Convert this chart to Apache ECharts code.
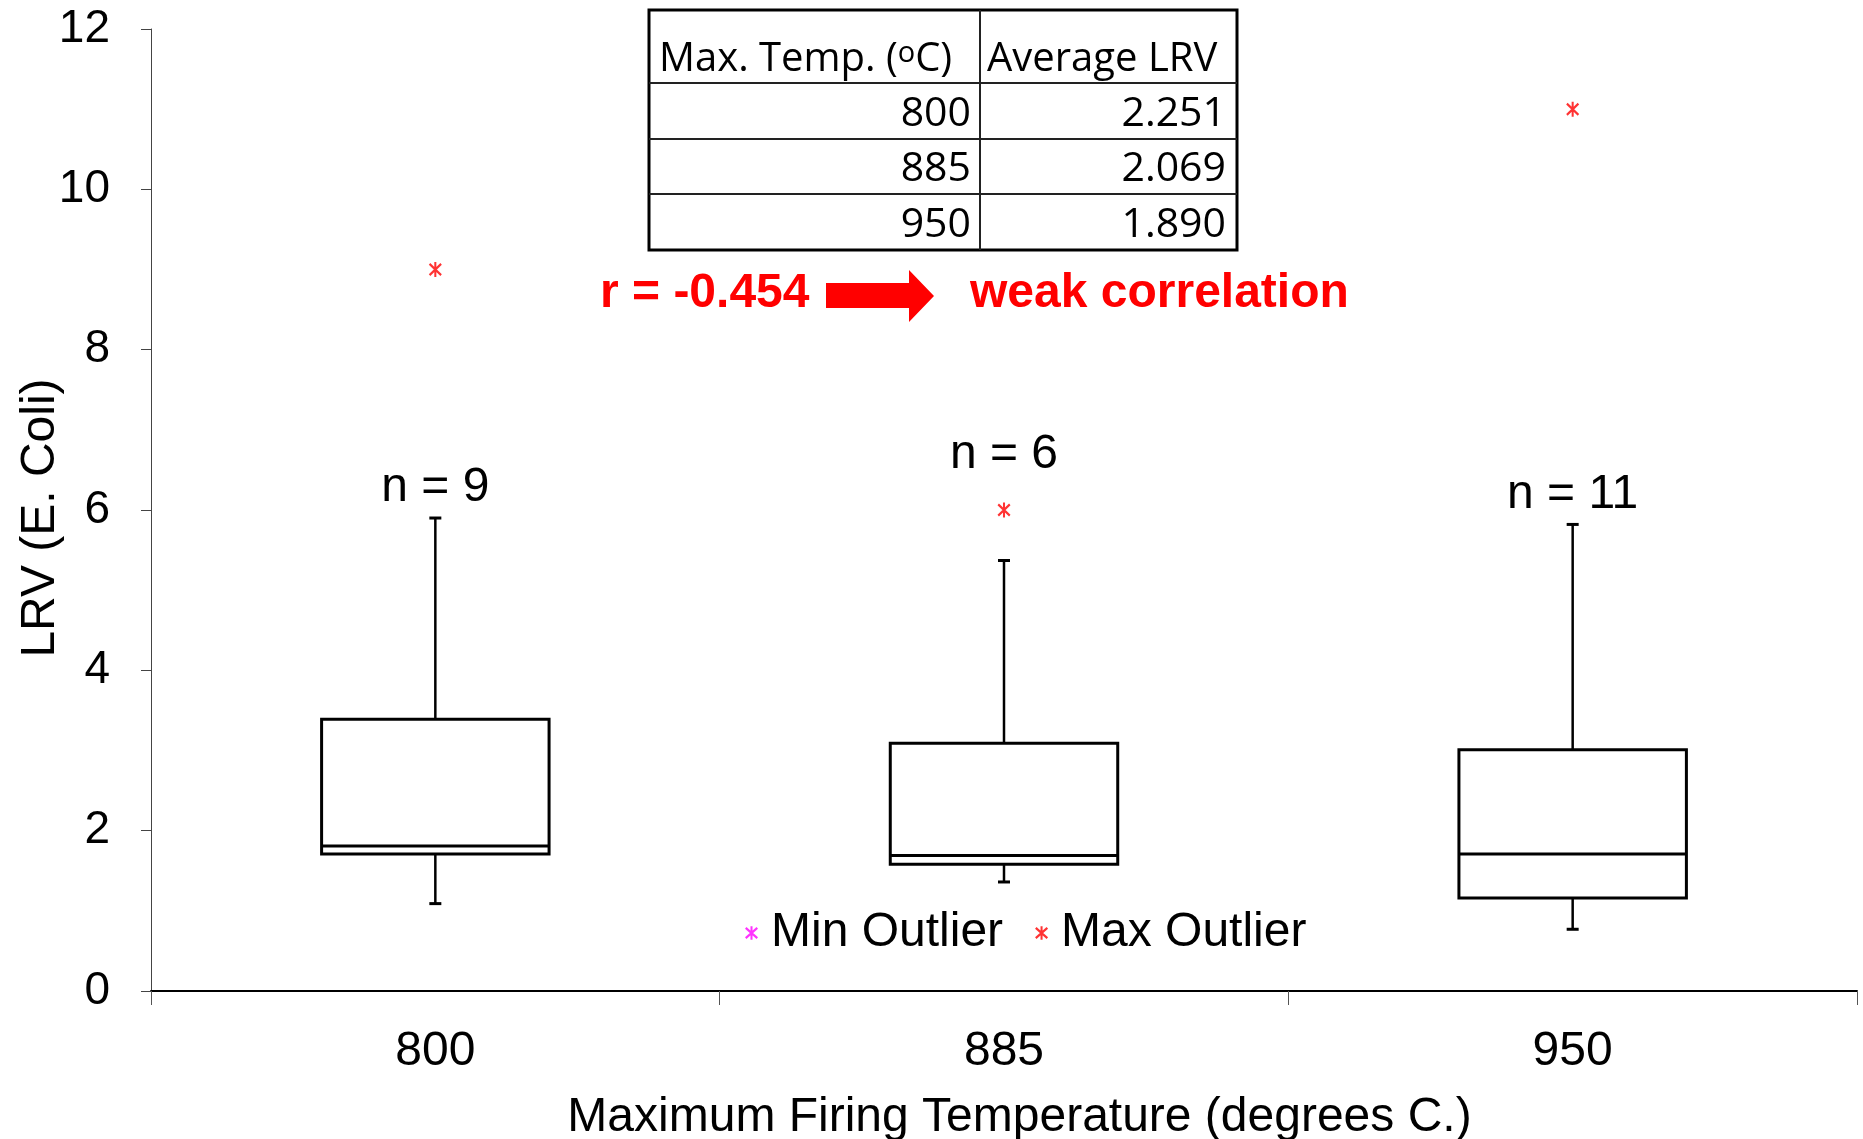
<!DOCTYPE html>
<html>
<head>
<meta charset="utf-8">
<script src="https://cdn.jsdelivr.net/npm/echarts@6/dist/echarts.min.js"></script>
<style>
  html, body { margin: 0; padding: 0; background: #fff; }
  #chart { width: 1863px; height: 1139px; }
</style>
</head>
<body>
<div id="chart"></div>
<script>
// box plot summary per firing temperature
const categories = ["800", "885", "950"];
const whiskerLow = [1.09, 1.36, 0.77];
const q1 = [1.71, 1.58, 1.16];
const median = [1.81, 1.69, 1.71];
const q3 = [3.39, 3.09, 3.01];
const whiskerHigh = [5.9, 5.37, 5.82];
const sampleCount = [9, 6, 11];
const maxOutliers = [9.0, 6.0, 11.0];
const minOutliers = [];

// inset table + correlation
const tableTemps = ["800", "885", "950"];
const avgLRV = ["2.251", "2.069", "1.890"];
const correlationR = "-0.454";

const ARIAL = "'Liberation Sans', Arial, sans-serif";
const CALIBRI = "'Open Sans', 'Noto Sans', sans-serif";
// x with a vertical stroke, like the excel marker
const asterisk =
  "path://M8.5 0L11.5 0L11.5 20L8.5 20Z M2.56 1.3L19.56 16.3L17.44 18.7L0.44 3.7Z M0.44 16.3L17.44 1.3L19.56 3.7L2.56 18.7Z";

const boxData = categories.map((c, i) => [
  i, whiskerLow[i], q1[i], median[i], q3[i], whiskerHigh[i], sampleCount[i],
]);

function renderBox(params, api) {
  const i = api.value(0);
  const x = api.coord([i, 0])[0];
  const bw = api.size([1, 0])[0] * 0.4;
  const yLow = api.coord([i, api.value(1)])[1];
  const yQ1 = api.coord([i, api.value(2)])[1];
  const yMed = api.coord([i, api.value(3)])[1];
  const yQ3 = api.coord([i, api.value(4)])[1];
  const yHigh = api.coord([i, api.value(5)])[1];
  // keep the n label clear of a nearby outlier
  let labelY = yHigh - 30;
  const out = maxOutliers[i];
  if (out != null && out - api.value(5) < 1) {
    labelY = Math.min(labelY, api.coord([i, out])[1] - 55);
  }
  const line = { stroke: "#000", lineWidth: 2.5 };
  return {
    type: "group",
    children: [
      { type: "line", shape: { x1: x, y1: yHigh, x2: x, y2: yQ3 }, style: line },
      { type: "line", shape: { x1: x, y1: yQ1, x2: x, y2: yLow }, style: line },
      { type: "line", shape: { x1: x - 6, y1: yHigh, x2: x + 6, y2: yHigh }, style: { stroke: "#000", lineWidth: 3 } },
      { type: "line", shape: { x1: x - 6, y1: yLow, x2: x + 6, y2: yLow }, style: { stroke: "#000", lineWidth: 3 } },
      {
        type: "rect",
        shape: { x: x - bw / 2, y: yQ3, width: bw, height: yQ1 - yQ3 },
        style: { fill: "#fff", stroke: "#000", lineWidth: 3 },
      },
      { type: "line", shape: { x1: x - bw / 2, y1: yMed, x2: x + bw / 2, y2: yMed }, style: { stroke: "#000", lineWidth: 3 } },
      {
        type: "text",
        style: {
          x: x, y: labelY, text: "n = " + api.value(6),
          font: "48px " + ARIAL, fill: "#000", align: "center", verticalAlign: "middle",
        },
      },
    ],
  };
}

// table geometry
const tbl = { left: 649, top: 10, right: 1237, split: 980, rows: [10, 83, 139, 194, 250] };
const tableEls = [
  {
    type: "rect",
    shape: { x: tbl.left, y: tbl.top, width: tbl.right - tbl.left, height: tbl.rows[4] - tbl.top },
    style: { fill: "#fff", stroke: "#000", lineWidth: 3 },
  },
  { type: "line", shape: { x1: tbl.split, y1: tbl.top, x2: tbl.split, y2: tbl.rows[4] }, style: { stroke: "#222", lineWidth: 2 } },
  {
    type: "text",
    style: {
      x: 659, y: 60, text: "{a|Max. Temp. (}{s|o}{a|C)}", verticalAlign: "middle",
      rich: {
        a: { fontFamily: CALIBRI, fontSize: 40, fill: "#000" },
        s: { fontFamily: CALIBRI, fontSize: 29, fill: "#000", verticalAlign: "top", padding: [0, 0, 12, 0] },
      },
    },
  },
  {
    type: "text",
    style: { x: 987, y: 60, text: "Average LRV", font: "40px " + CALIBRI, fill: "#000", verticalAlign: "middle" },
  },
];
tableTemps.forEach((t, i) => {
  const yTop = tbl.rows[i + 1];
  const yMid = (yTop + tbl.rows[i + 2]) / 2 + 3;
  tableEls.push({ type: "line", shape: { x1: tbl.left, y1: yTop, x2: tbl.right, y2: yTop }, style: { stroke: "#222", lineWidth: 2 } });
  tableEls.push({
    type: "text",
    style: { x: 971, y: yMid, text: t, font: "41px " + CALIBRI, fill: "#000", align: "right", verticalAlign: "middle" },
  });
  tableEls.push({
    type: "text",
    style: { x: 1226, y: yMid, text: avgLRV[i], font: "41px " + CALIBRI, fill: "#000", align: "right", verticalAlign: "middle" },
  });
});

const annotEls = [
  {
    type: "text",
    style: { x: 600, y: 294, text: "r = " + correlationR, font: "bold 48px " + ARIAL, fill: "#ff0000", verticalAlign: "middle" },
  },
  {
    type: "polygon",
    shape: { points: [[826, 283], [909, 283], [909, 270], [934, 296], [909, 322], [909, 308], [826, 308]] },
    style: { fill: "#ff0000" },
  },
  {
    type: "text",
    style: { x: 970, y: 294, text: "weak correlation", font: "bold 48px " + ARIAL, fill: "#ff0000", verticalAlign: "middle" },
  },
];

const chart = echarts.init(document.getElementById("chart"));
chart.setOption({
  backgroundColor: "#fff",
  animation: false,
  grid: { left: 151, right: 6, top: 29, bottom: 148, outerBoundsMode: "none" },
  legend: {
    left: 740,
    top: 904,
    itemGap: 32,
    itemWidth: 13,
    itemHeight: 15,
    textStyle: { fontFamily: ARIAL, fontSize: 48, color: "#000", padding: [0, 0, 0, 8] },
    data: [
      { name: "Min Outlier", icon: asterisk, itemStyle: { color: "#ff00ff" } },
      { name: "Max Outlier", icon: asterisk, itemStyle: { color: "#ff0000" } },
    ],
  },
  xAxis: {
    type: "category",
    data: categories,
    name: "Maximum Firing Temperature (degrees C.)",
    nameLocation: "middle",
    nameGap: 103,
    nameMoveOverlap: false,
    nameTextStyle: { fontFamily: ARIAL, fontSize: 48, color: "#000", padding: [0, 0, 0, 31] },
    axisLine: { lineStyle: { color: "#000", width: 2 } },
    axisTick: { show: true, length: 14, lineStyle: { color: "#555", width: 1 } },
    axisLabel: { fontFamily: ARIAL, fontSize: 48, color: "#000", margin: 37 },
    splitLine: { show: false },
  },
  yAxis: {
    type: "value",
    min: 0,
    max: 12,
    interval: 2,
    name: "LRV (E. Coli)",
    nameLocation: "middle",
    nameGap: 86,
    nameMoveOverlap: false,
    nameTextStyle: { fontFamily: ARIAL, fontSize: 48, color: "#000", padding: [0, 16, 0, 0] },
    axisLine: { show: true, lineStyle: { color: "#444", width: 1 } },
    axisTick: { show: true, length: 10, lineStyle: { color: "#444" } },
    axisLabel: { fontFamily: ARIAL, fontSize: 46, color: "#000", margin: 41 },
    splitLine: { show: false },
  },
  series: [
    {
      name: "box",
      type: "custom",
      renderItem: renderBox,
      encode: { x: 0, y: [1, 2, 3, 4, 5] },
      data: boxData,
      z: 2,
    },
    {
      name: "Min Outlier",
      type: "scatter",
      symbol: asterisk,
      symbolSize: [13, 15],
      itemStyle: { color: "#ff00ff" },
      data: minOutliers,
    },
    {
      name: "Max Outlier",
      type: "scatter",
      symbol: asterisk,
      symbolSize: [13, 15],
      itemStyle: { color: "#ff0000" },
      data: maxOutliers.map((v, i) => [i, v]),
      z: 3,
    },
  ],
  graphic: { elements: tableEls.concat(annotEls) },
});
</script>
</body>
</html>
